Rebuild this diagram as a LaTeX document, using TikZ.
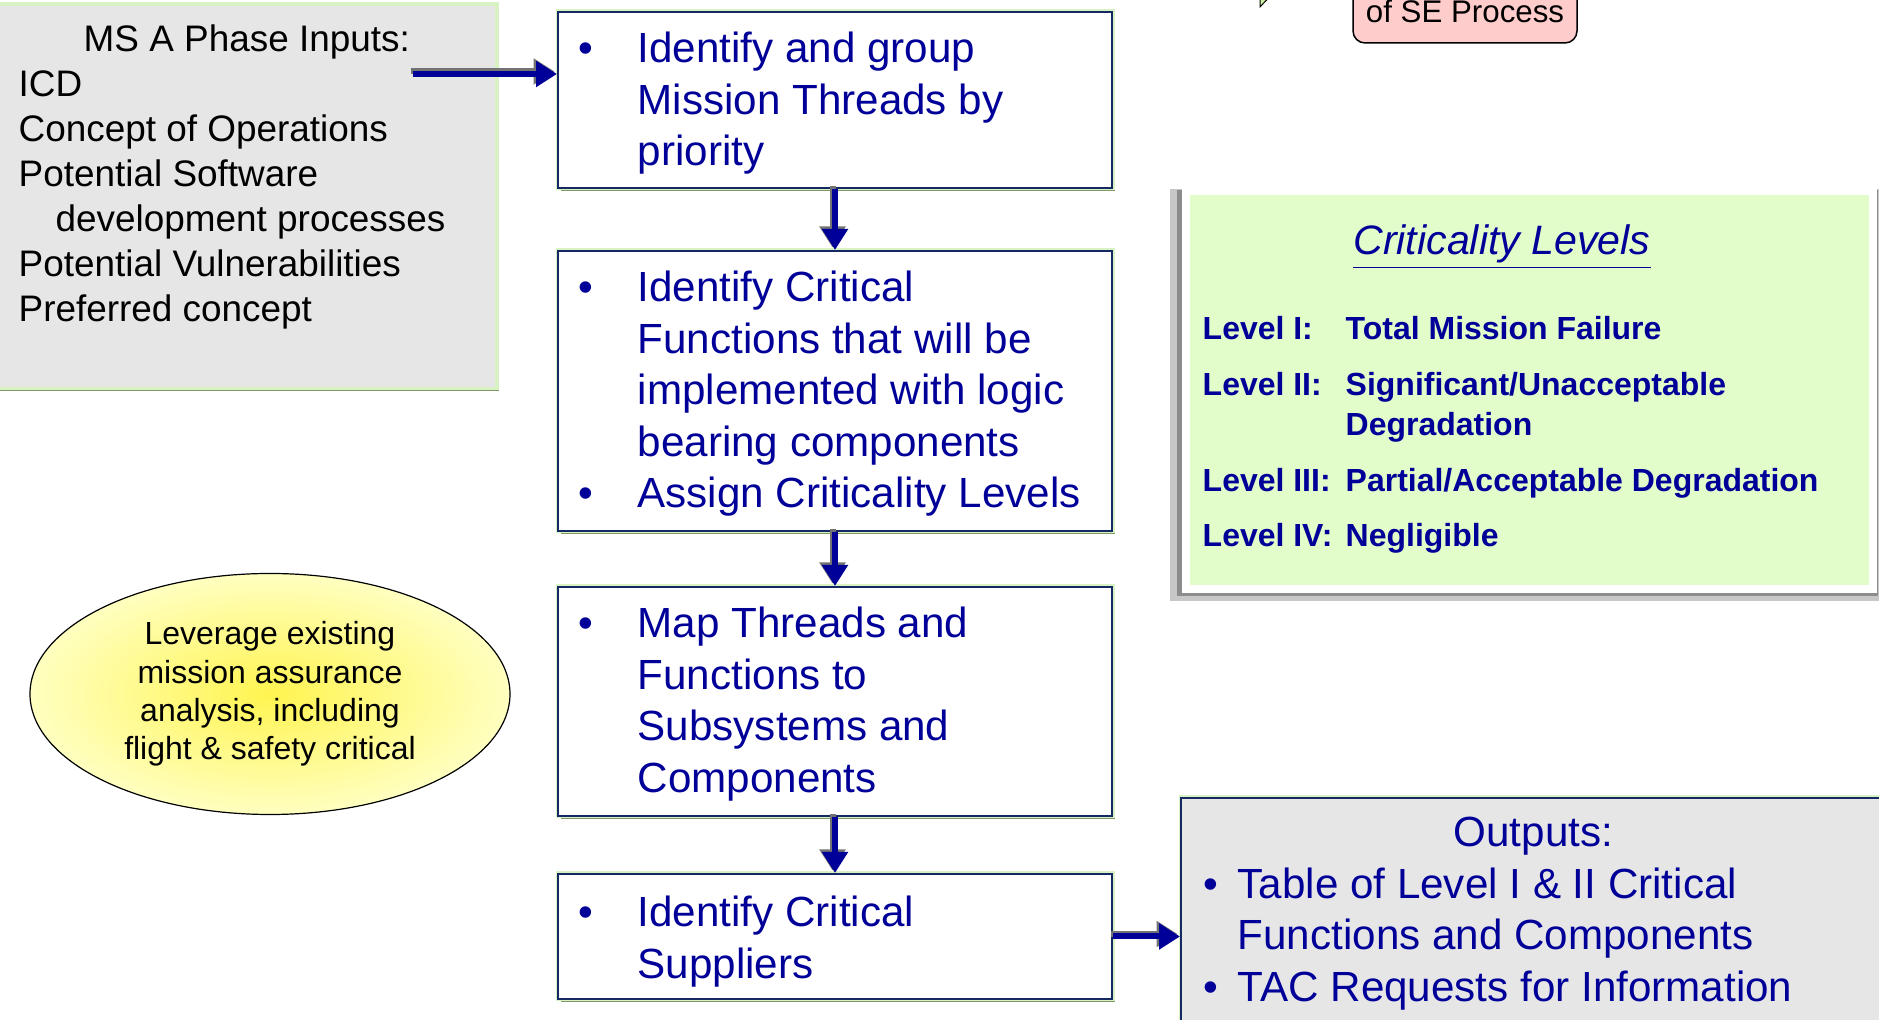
\documentclass[tikz,border=0pt]{standalone}
\usepackage{fontspec}
\setmainfont{Liberation Sans}
\usetikzlibrary{positioning,shapes.geometric,shadows,arrows.meta}

\definecolor{textblue}{RGB}{0,0,153}
\definecolor{boxnavy}{RGB}{20,40,100}
\definecolor{glowgreen}{RGB}{216,242,196}
\definecolor{shadowolive}{RGB}{128,150,100}
\definecolor{inputgray}{RGB}{230,230,230}
\definecolor{critgreen}{RGB}{226,252,202}
\definecolor{pinkfill}{RGB}{255,204,204}
\definecolor{tipgreen}{RGB}{200,240,160}
\definecolor{ovalin}{RGB}{255,244,80}
\definecolor{ovalout}{RGB}{255,255,192}

\newcommand{\flowfont}{\fontsize{12}{14.65}\selectfont}
\newcommand{\inputfont}{\fontsize{10.5}{12.8}\selectfont}
\newcommand{\ovalfont}{\fontsize{9.1}{10.9}\selectfont}
\newcommand{\levelfont}{\fontsize{9.1}{11.4}\selectfont\bfseries}

\tikzset{
  glowbox/.style={rectangle, inner sep=0pt, anchor=north west,
    drop shadow={shadow xshift=0.03cm, shadow yshift=-0.03cm, fill=shadowolive, opacity=1},
    preaction={draw=glowgreen, line width=0.05cm}},
  flowbox/.style={glowbox, draw=boxnavy, line width=0.02cm, fill=white, minimum width=5.54cm},
  flowtext/.style={inner sep=0pt, font=\flowfont, text=textblue},
  flowarrow/.style={draw=textblue, line width=0.06cm, -{Triangle[width=0.25cm,length=0.21cm]}},
  arrowshade/.style={flowarrow, draw=black!55, transform canvas={shift={(-0.025cm,0.025cm)}}},
  critframe/.style={rectangle, anchor=north west, fill=critgreen, draw=white, line width=0.08cm,
    drop shadow={shadow xshift=-0.04cm, shadow yshift=-0.05cm, shadow scale=1.035, fill=black!22, opacity=1},
    drop shadow={shadow xshift=-0.02cm, shadow yshift=-0.03cm, shadow scale=1.02, fill=black!45, opacity=1}},
  leverage/.style={ellipse, draw=black, line width=0.012cm, inner color=ovalin, outer color=ovalout,
    minimum width=4.80cm, minimum height=2.41cm, inner sep=0pt, align=center, font=\ovalfont},
  seproc/.style={rectangle, rounded corners=0.12cm, draw=black, line width=0.015cm, fill=pinkfill,
    anchor=base, text height=0.9cm, text depth=0.2cm, inner sep=0pt, minimum width=2.24cm,
    font=\fontsize{8.9}{10}\selectfont}
}

\begin{document}
\begin{tikzpicture}
\useasboundingbox (0,0) rectangle (18.79,-10.20);

\draw[fill=tipgreen, line width=0.01cm] (12.60,0.10) -- (12.60,-0.07) -- (12.76,0.10);
\node[seproc] (seproc) at (14.65,-0.23) {of SE Process};

\node[glowbox, draw=glowgreen, line width=0.02cm, fill=inputgray, minimum width=5.0cm, minimum height=3.83cm] (inputs) at (-0.05,-0.04) {};
\node[inner sep=0pt, font=\inputfont, below right=0.155cm and 0.23cm of inputs.north west] (inputtext) {%
  \begin{tabular}{@{}l@{}}
  \hspace{0.65cm}MS A Phase Inputs:\\
  ICD\\
  Concept of Operations\\
  Potential Software\\
  \hspace{0.37cm}development processes\\
  Potential Vulnerabilities\\
  Preferred concept
  \end{tabular}};

\node[flowbox, minimum height=1.76cm] (box1) at (5.57,-0.11) {};
\node[flowbox, minimum height=2.80cm] (box2) at (5.57,-2.50) {};
\node[flowbox, minimum height=2.29cm] (box3) at (5.57,-5.86) {};
\node[flowbox, minimum height=1.25cm] (box4) at (5.57,-8.73) {};

\node[flowtext, below right=0.15cm and 0.21cm of box1.north west] (text1) {%
  \begin{tabular}{@{}p{0.59cm}@{}l@{}}
  \textbullet & Identify and group\\
  & Mission Threads by\\
  & priority
  \end{tabular}};
\node[flowtext, below right=0.15cm and 0.21cm of box2.north west] (text2) {%
  \begin{tabular}{@{}p{0.59cm}@{}l@{}}
  \textbullet & Identify Critical\\
  & Functions that will be\\
  & implemented with logic\\
  & bearing components\\
  \textbullet & Assign Criticality Levels
  \end{tabular}};
\node[flowtext, below right=0.15cm and 0.21cm of box3.north west] (text3) {%
  \begin{tabular}{@{}p{0.59cm}@{}l@{}}
  \textbullet & Map Threads and\\
  & Functions to\\
  & Subsystems and\\
  & Components
  \end{tabular}};
\node[flowtext, below right=0.17cm and 0.21cm of box4.north west] (text4) {%
  \begin{tabular}{@{}p{0.59cm}@{}l@{}}
  \textbullet & Identify Critical\\
  & Suppliers
  \end{tabular}};

\node[critframe, minimum width=6.87cm, minimum height=3.98cm] (crit) at (11.82,-1.87) {};
\node[inner sep=0pt, text=textblue, font=\fontsize{11.7}{14}\selectfont\itshape] (crithead) at (15.02,-2.47) {\underline{Criticality Levels}};
\node[inner sep=0pt, text=textblue, font=\levelfont, below right=1.235cm and 0.20cm of crit.north west] (levels) {%
  \begin{tabular}{@{}p{1.43cm}@{}l@{}}
  Level I: & Total Mission Failure\\[4.5pt]
  Level II: & Significant/Unacceptable\\
  & Degradation\\[4.5pt]
  Level III: & Partial/Acceptable Degradation\\[4.5pt]
  Level IV: & Negligible
  \end{tabular}};

\node[leverage] (leverage) at (2.70,-6.94) {Leverage existing\\mission assurance\\analysis, including\\flight \& safety critical};

\node[glowbox, draw=boxnavy, line width=0.02cm, fill=inputgray, minimum width=7.3cm, minimum height=2.6cm] (outputs) at (11.80,-7.97) {};
\node[flowtext, below right=0.13cm and 0.23cm of outputs.north west] (outlist) {%
  \begin{tabular}{@{}p{0.34cm}@{}l@{}}
  \multicolumn{2}{@{}l@{}}{\hspace{2.50cm}Outputs:}\\
  \textbullet & Table of Level I \& II Critical\\
  & Functions and Components\\
  \textbullet & TAC Requests for Information
  \end{tabular}};

\coordinate (instart) at (4.13,-0.74);
\coordinate (inend) at (instart -| box1.west);
\coordinate (outstart) at (box4.east);
\coordinate (outend) at (box4.east -| outputs.west);
\foreach \from/\to in {instart/inend, box1.south/box2.north, box2.south/box3.north, box3.south/box4.north, outstart/outend} {
  \draw[arrowshade] (\from) -- (\to);
  \draw[flowarrow] (\from) -- (\to);
}
\end{tikzpicture}
\end{document}
